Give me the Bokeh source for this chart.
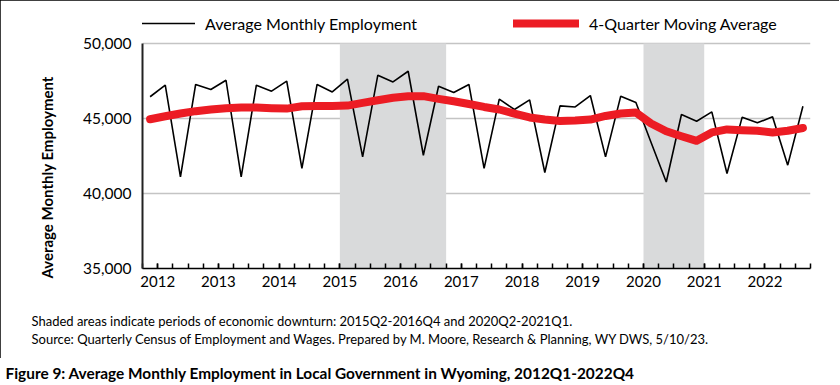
from bokeh.plotting import figure
from bokeh.models import (ColumnDataSource, BoxAnnotation, Legend, LegendItem, Title,
                          FixedTicker, NumeralTickFormatter, Range1d)
from bokeh.layouts import column
from bokeh.embed import file_html
from bokeh.resources import INLINE

# ---------------- data ----------------
years = [2012, 2013, 2014, 2015, 2016, 2017, 2018, 2019, 2020, 2021, 2022]
quarter_names = ["Q1", "Q2", "Q3", "Q4"]
quarters = [f"{y}{q}" for y in years for q in quarter_names]

employment = [46450, 47220, 41110, 47270,
              46930, 47550, 41110, 47220,
              46820, 47490, 41670, 47270,
              46770, 47620, 42440, 47890,
              47440, 48150, 42550, 47150,
              46730, 47270, 41670, 46290,
              45600, 46240, 41400, 45840,
              45770, 46530, 42440, 46490,
              46070, 43400, 40770, 45270,
              44820, 45440, 41330, 45090,
              44710, 45110, 41890, 45820]

moving_avg = [44950, 45150, 45330, 45490,
              45600, 45690, 45730, 45730,
              45690, 45660, 45820, 45840,
              45840, 45860, 46040, 46220,
              46380, 46480, 46490, 46310,
              46150, 45970, 45770, 45600,
              45330, 45070, 44930, 44840,
              44860, 44930, 45170, 45330,
              45400, 44670, 44150, 43820,
              43510, 44070, 44270, 44220,
              44180, 44070, 44180, 44370]

downturns = [("2015Q2", "2016Q4"), ("2020Q2", "2021Q1")]
y_ticks = [35000, 40000, 45000, 50000]
y_min, y_max = 35000, 50000

FONT = "Lato"

# ---------------- main figure ----------------
x_pos = [i + 0.5 for i in range(len(quarters))]
src = ColumnDataSource(dict(x=x_pos, q=quarters, emp=employment, ma=moving_avg))

# frame extends above 50,000 to hold the legend (axis line bounded to 35k-50k)
p = figure(width=839, height=358, output_backend="svg", toolbar_location=None,
           x_range=Range1d(0, len(quarters)), y_range=Range1d(y_min, 52600),
           min_border_left=142, min_border_right=29, min_border_top=4, min_border_bottom=90)
p.outline_line_color = None
p.background_fill_color = "white"
p.border_fill_color = "white"
p.styles = {"outline": "2px solid black", "outline-offset": "-2px"}

for start, end in downturns:
    p.add_layout(BoxAnnotation(left=quarters.index(start), right=quarters.index(end) + 1,
                               bottom=y_min, top=y_max,
                               fill_color="#d9dadb", fill_alpha=1.0, line_color=None,
                               level="underlay"))

r_emp = p.line("x", "emp", source=src, line_color="black", line_width=1.6)
r_ma = p.line("x", "ma", source=src, line_color="#ec1c24", line_width=8,
              line_cap="round", line_join="round")

# y axis
p.yaxis.ticker = FixedTicker(ticks=y_ticks)
p.yaxis.bounds = (y_min, y_max)
p.yaxis.formatter = NumeralTickFormatter(format="0,0")
p.yaxis.major_tick_line_color = None
p.yaxis.minor_tick_line_color = None
p.yaxis.axis_line_color = "#222222"
p.yaxis.axis_line_width = 2
p.yaxis.major_label_standoff = 5
p.yaxis.major_label_text_font = FONT
p.yaxis.major_label_text_font_size = "15.5px"
p.yaxis.major_label_text_color = "black"
p.ygrid.ticker = FixedTicker(ticks=y_ticks)
p.ygrid.grid_line_color = "#c4c4c4"
p.ygrid.grid_line_width = 1.6

# x axis: tick marks at every quarter boundary, year labels every 4 ticks
label_ticks = [1 + 4 * k for k in range(len(years))]
p.xaxis.ticker = FixedTicker(ticks=label_ticks, minor_ticks=list(range(0, len(quarters) + 1)))
p.xaxis.major_label_overrides = {t: str(y) for t, y in zip(label_ticks, years)}
p.xaxis.major_tick_in = 5
p.xaxis.major_tick_out = 0
p.xaxis.minor_tick_in = 5
p.xaxis.minor_tick_out = 0
p.xaxis.major_tick_line_color = "black"
p.xaxis.minor_tick_line_color = "black"
p.xaxis.major_tick_line_width = 1.5
p.xaxis.minor_tick_line_width = 1.5
p.xaxis.axis_line_color = "black"
p.xaxis.axis_line_width = 1.5
p.xaxis.major_label_standoff = 7
p.xaxis.major_label_text_font = FONT
p.xaxis.major_label_text_font_size = "15px"
p.xaxis.major_label_text_color = "black"
p.xgrid.grid_line_color = None

# legend (inside the extended frame, above the 50,000 line)
legend = Legend(items=[LegendItem(label="Average Monthly Employment", renderers=[r_emp]),
                       LegendItem(label="4-Quarter Moving Average", renderers=[r_ma])],
                orientation="horizontal", location=(-13, 235),
                glyph_width=66, glyph_height=20, label_standoff=10, spacing=96,
                padding=0, margin=0, border_line_color=None, background_fill_alpha=0,
                label_text_font=FONT, label_text_font_size="16px", label_text_color="black")
p.add_layout(legend)

# y-axis title (left panel)
p.add_layout(Title(text="Average Monthly Employment", align="left", offset=-10,
                   text_font=FONT, text_font_size="15px", text_font_style="bold",
                   text_color="black", standoff=49), "left")

# footnotes (below panel); a blank spacer title first
p.add_layout(Title(text=" ", text_font_size="1px", standoff=18), "below")
p.add_layout(Title(text="Shaded areas indicate periods of economic downturn: 2015Q2-2016Q4 and 2020Q2-2021Q1.",
                   align="left", offset=-111, text_font=FONT, text_font_size="13px",
                   text_font_style="normal", text_color="black", standoff=0), "below")
p.add_layout(Title(text="Source: Quarterly Census of Employment and Wages. Prepared by M. Moore, Research & Planning, WY DWS, 5/10/23.",
                   align="left", offset=-111, text_font=FONT, text_font_size="13px",
                   text_font_style="normal", text_color="black", standoff=0), "below")

# ---------------- caption figure ----------------
cap = figure(width=839, height=26, output_backend="svg", toolbar_location=None,
             x_range=Range1d(0, 1), y_range=Range1d(0, 1),
             min_border_left=0, min_border_right=0, min_border_top=23, min_border_bottom=0)
cap.outline_line_color = None
cap.xaxis.visible = False
cap.yaxis.visible = False
cap.xgrid.grid_line_color = None
cap.ygrid.grid_line_color = None
cap.border_fill_color = "white"
cap.add_layout(Title(text="Figure 9: Average Monthly Employment in Local Government in Wyoming, 2012Q1-2022Q4",
                     align="left", offset=-137, text_font=FONT, text_font_size="15.4px",
                     text_font_style="bold", text_color="black", standoff=0), "above")

layout = column(p, cap, spacing=0)
open("out.html", "w").write(file_html(layout, INLINE))
